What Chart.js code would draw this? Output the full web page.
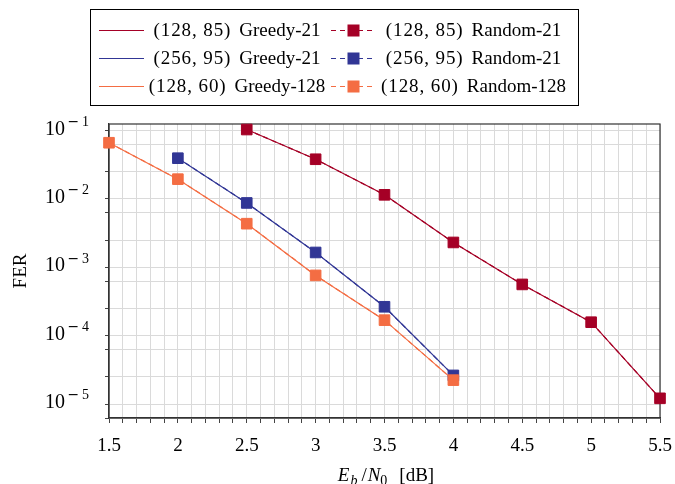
<!DOCTYPE html>
<html>
<head>
<meta charset="utf-8">
<script src="https://cdn.jsdelivr.net/npm/chart.js@4.4.1/dist/chart.umd.min.js"></script>
<style>
  html, body { margin: 0; padding: 0; background: #fff; }
  #wrap { width: 675px; height: 484px; }
</style>
</head>
<body>
<div id="wrap"><canvas id="ferChart"></canvas></div>
<script>
// data (FER vs Eb/N0)
const ebn0_128_85 = [2.5, 3, 3.5, 4, 4.5, 5, 5.5];
const ferGreedy_128_85 = [0.083, 0.0305, 0.0092, 0.00185, 4.5e-4, 1.26e-4, 9.7e-6];
const ferRandom_128_85 = [0.083, 0.0305, 0.0092, 0.00185, 4.5e-4, 1.26e-4, 9.7e-6];

const ebn0_256_95 = [2, 2.5, 3, 3.5, 4];
const ferGreedy_256_95 = [0.0316, 0.0070, 0.00132, 2.12e-4, 2.1e-5];
const ferRandom_256_95 = [0.0316, 0.0070, 0.00132, 2.12e-4, 2.1e-5];

const ebn0_128_60 = [1.5, 2, 2.5, 3, 3.5, 4];
const ferGreedy_128_60 = [0.0532, 0.0156, 0.00348, 6.1e-4, 1.35e-4, 1.79e-5];
const ferRandom_128_60 = [0.0532, 0.0156, 0.00348, 6.1e-4, 1.35e-4, 1.79e-5];

const codeLabels = ['(128, 85)', '(256, 95)', '(128, 60)'];
const greedyLabels = ['Greedy-21', 'Greedy-21', 'Greedy-128'];
const randomLabels = ['Random-21', 'Random-21', 'Random-128'];
const xTickLabels = ['1.5', '2', '2.5', '3', '3.5', '4', '4.5', '5', '5.5'];
const yDecades = [1e-5, 1e-4, 1e-3, 1e-2, 1e-1];
const yExponents = ['5', '4', '3', '2', '1'];

const RED = '#a50026', BLUE = '#313695', ORANGE = '#f46d43';
const FONT = "'Liberation Serif', 'DejaVu Serif', serif";

function pts(xs, ys) {
  return xs.map((x, i) => ({ x: x, y: ys[i] }));
}

function greedySet(i, xs, ys, color, order) {
  return {
    label: codeLabels[i] + ' ' + greedyLabels[i], data: pts(xs, ys),
    borderColor: color, backgroundColor: color,
    borderWidth: 1.2, pointRadius: 0, order: order, clip: false
  };
}

function randomSet(i, xs, ys, color, order) {
  return {
    label: codeLabels[i] + ' ' + randomLabels[i], data: pts(xs, ys),
    borderColor: color, backgroundColor: color,
    borderWidth: 1.2, borderDash: [5, 4], pointStyle: 'rect', pointRadius: 7.5,
    pointBorderWidth: 1, order: order, clip: false
  };
}

const datasets = [
  greedySet(0, ebn0_128_85, ferGreedy_128_85, RED, 5),
  randomSet(0, ebn0_128_85, ferRandom_128_85, RED, 4),
  greedySet(1, ebn0_256_95, ferGreedy_256_95, BLUE, 3),
  randomSet(1, ebn0_256_95, ferRandom_256_95, BLUE, 2),
  greedySet(2, ebn0_128_60, ferGreedy_128_60, ORANGE, 1),
  randomSet(2, ebn0_128_60, ferRandom_128_60, ORANGE, 0)
];

// draw a legend label: code part spaced a bit wider, then the name
function legendText(ctx, code, name, cx, y) {
  ctx.font = '19px ' + FONT;
  ctx.textAlign = 'left';
  const codeW = ctx.measureText(code).width + code.length * 0.9;
  const nameW = ctx.measureText(name).width;
  const gap = 8;
  let x = cx - (codeW + gap + nameW) / 2;
  for (const ch of code) {
    ctx.fillText(ch, x, y);
    x += ctx.measureText(ch).width + 0.9;
  }
  ctx.fillText(name, x + gap, y);
}

// frame, y labels with exponents, x title and the boxed legend
const ferDecorations = {
  id: 'ferDecorations',
  beforeDatasetsDraw(chart) {
    const ctx = chart.ctx, a = chart.chartArea;
    ctx.save();
    ctx.strokeStyle = '#333';
    ctx.lineWidth = 1.2;
    ctx.strokeRect(a.left, a.top, a.right - a.left, a.bottom - a.top);
    ctx.restore();
  },
  afterDraw(chart) {
    const ctx = chart.ctx, a = chart.chartArea;
    const yScale = chart.scales.y;
    ctx.save();
    ctx.fillStyle = '#000';
    ctx.textBaseline = 'alphabetic';

    // y tick labels 10^-k
    yDecades.forEach((d, i) => {
      const py = yScale.getPixelForValue(d);
      ctx.font = '20px ' + FONT;
      ctx.textAlign = 'right';
      ctx.fillText('10', 65, py + 10.5);
      ctx.textAlign = 'left';
      ctx.font = "14px 'DejaVu Sans', sans-serif";
      ctx.fillText('\u2212', 67.5, py + 2);
      ctx.font = '14px ' + FONT;
      ctx.fillText(yExponents[i], 82, py + 2);
    });

    // x axis title: E_b/N_0 [dB]
    const parts = [
      { t: 'E', f: 'italic 19px ' + FONT, dy: 0, gap: 1 },
      { t: 'b', f: 'italic 14px ' + FONT, dy: 4, gap: 4 },
      { t: '/', f: '19px ' + FONT, dy: 0, gap: 1 },
      { t: 'N', f: 'italic 19px ' + FONT, dy: 0, gap: 0 },
      { t: '0', f: '14px ' + FONT, dy: 4, gap: 12 },
      { t: '[dB]', f: '19px ' + FONT, dy: 0, gap: 0 }
    ];
    let total = 0;
    parts.forEach(p => { ctx.font = p.f; p.w = ctx.measureText(p.t).width; total += p.w + p.gap; });
    let tx = (a.left + a.right) / 2 + 1.5 - total / 2;
    ctx.textAlign = 'left';
    parts.forEach(p => {
      ctx.font = p.f;
      ctx.fillText(p.t, tx, 481 + p.dy);
      tx += p.w + p.gap;
    });

    // legend
    const box = { x: 90.5, y: 9.5, w: 488, h: 96 };
    ctx.fillStyle = '#fff';
    ctx.fillRect(box.x, box.y, box.w, box.h);
    ctx.strokeStyle = '#000';
    ctx.lineWidth = 1;
    ctx.strokeRect(box.x, box.y, box.w, box.h);
    const rowY = [30.5, 58.5, 86.5];
    rowY.forEach((ry, r) => {
      const g = chart.data.datasets[r * 2];
      const rn = chart.data.datasets[r * 2 + 1];
      ctx.lineWidth = 1;
      ctx.strokeStyle = g.borderColor;
      ctx.setLineDash([]);
      ctx.beginPath();
      ctx.moveTo(99, ry); ctx.lineTo(144, ry);
      ctx.stroke();

      ctx.strokeStyle = rn.borderColor;
      ctx.setLineDash([5, 4]);
      ctx.beginPath();
      ctx.moveTo(331, ry); ctx.lineTo(376, ry);
      ctx.stroke();
      ctx.setLineDash([]);
      ctx.fillStyle = rn.backgroundColor;
      ctx.fillRect(353.5 - 6, ry - 6, 12, 12);

      ctx.fillStyle = '#000';
      legendText(ctx, codeLabels[r], greedyLabels[r], 237, ry + 5.5);
      legendText(ctx, codeLabels[r], randomLabels[r], 473.5, ry + 5.5);
    });
    ctx.restore();
  }
};

new Chart(document.getElementById('ferChart'), {
  type: 'line',
  data: { datasets: datasets },
  plugins: [ferDecorations],
  options: {
    responsive: true,
    maintainAspectRatio: false,
    animation: false,
    layout: { padding: { top: 124, right: 15, left: 0, bottom: 0 } },
    plugins: { legend: { display: false }, tooltip: { enabled: false } },
    elements: { line: { tension: 0 } },
    scales: {
      x: {
        type: 'linear',
        min: 1.5,
        max: 5.5,
        afterFit(scale) {
          scale.height = 66;
          scale.paddingLeft = 0;
          scale.paddingRight = 0;
        },
        ticks: {
          stepSize: 0.1,
          autoSkip: false,
          maxRotation: 0,
          padding: 12,
          color: '#000',
          font: { family: FONT, size: 19 },
          callback(value) {
            const s = String(Math.round(value * 10) / 10);
            return xTickLabels.includes(s) ? s : '';
          }
        },
        grid: { color: '#dadada', lineWidth: 1, tickLength: 5, tickColor: '#444' },
        border: { color: '#333', width: 1.2 }
      },
      y: {
        type: 'logarithmic',
        min: 5e-6,
        max: 0.1,
        afterFit(scale) {
          scale.width = 109;
          scale.paddingTop = 0;
          scale.paddingBottom = 0;
        },
        afterBuildTicks(scale) {
          const ticks = [];
          for (let k = -6; k <= -1; k++) {
            for (let m = 1; m <= 9; m++) {
              const v = Number((m * Math.pow(10, k)).toPrecision(3));
              if (v >= 5e-6 && v <= 0.1) ticks.push({ value: v });
            }
          }
          scale.ticks = ticks;
        },
        ticks: { callback() { return ''; } },
        grid: { color: '#dadada', lineWidth: 1, tickLength: 4, tickColor: '#444' },
        border: { color: '#333', width: 1.2 },
        title: {
          display: true,
          text: 'FER',
          color: '#000',
          font: { family: FONT, size: 19 },
          padding: { top: 10, bottom: 0 }
        }
      }
    }
  }
});
</script>
</body>
</html>
